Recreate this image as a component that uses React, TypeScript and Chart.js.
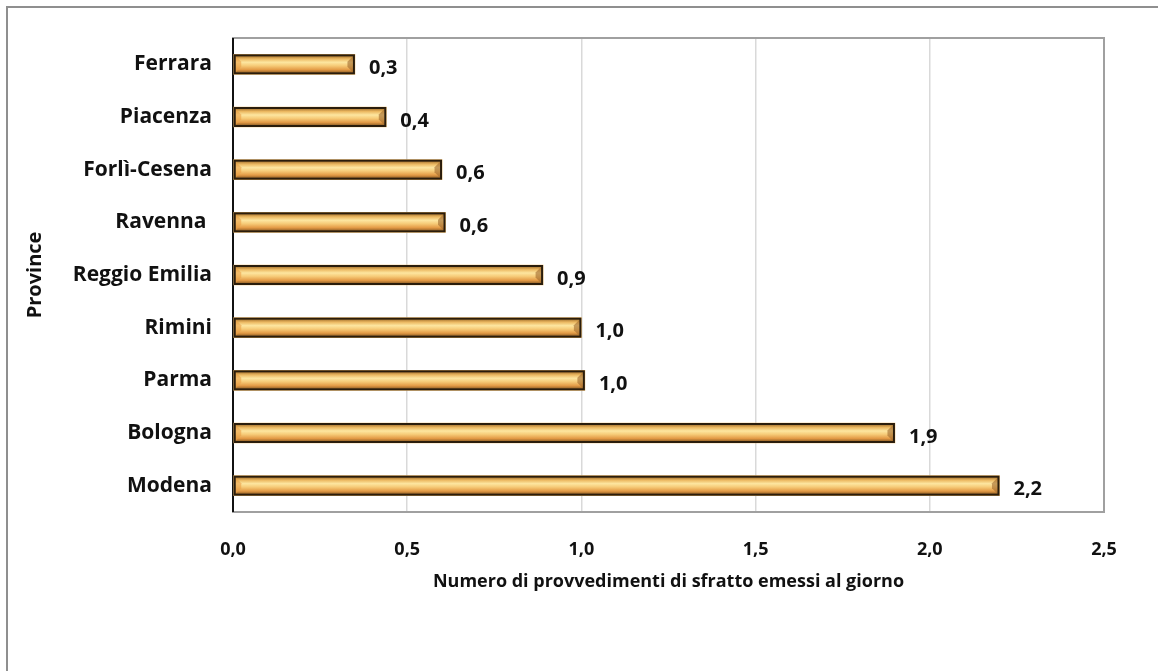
import React, { useEffect, useRef } from "react";
import { Chart, registerables } from "chart.js";

Chart.register(...registerables);

const provinces = ["Ferrara", "Piacenza", "Forlì-Cesena", "Ravenna ", "Reggio Emilia", "Rimini", "Parma", "Bologna", "Modena"];
const sfrattiPerGiorno = [0.35, 0.44, 0.6, 0.61, 0.89, 1.0, 1.01, 1.9, 2.2];
const xMin = 0;
const xMax = 2.5;
const xStep = 0.5;
const xTitle = "Numero di provvedimenti di sfratto emessi al giorno";
const yTitle = "Province";

const FONT = "'Open Sans', 'Noto Sans', sans-serif";
const fmt = (v: number) => v.toFixed(1).replace(".", ",");

const framePlugin = {
  id: "frame",
  beforeDatasetsDraw(chart: any) {
    const { ctx, chartArea: a } = chart;
    ctx.save();
    ctx.strokeStyle = "#a0a0a0";
    ctx.lineWidth = 2;
    ctx.strokeRect(a.left, a.top, a.right - a.left, a.bottom - a.top);
    ctx.strokeStyle = "#111111";
    ctx.lineWidth = 2;
    ctx.beginPath();
    ctx.moveTo(a.left, a.top);
    ctx.lineTo(a.left, a.bottom);
    ctx.stroke();
    ctx.restore();
  },
};

const bevelPlugin = {
  id: "bevel",
  afterDatasetsDraw(chart: any) {
    const { ctx } = chart;
    const meta = chart.getDatasetMeta(0);
    ctx.save();
    meta.data.forEach((el: any, i: number) => {
      const p = el.getProps(["x", "y", "base", "height"], true);
      const bw = 1.5;
      const x0 = Math.min(p.base, p.x) + bw;
      const x1 = Math.max(p.base, p.x) - bw;
      const y0 = p.y - p.height / 2 + bw;
      const y1 = p.y + p.height / 2 - bw;
      const g = ctx.createLinearGradient(0, y0, 0, y1);
      g.addColorStop(0, "#a8752f");
      g.addColorStop(0.18, "#ecb962");
      g.addColorStop(0.38, "#fde6a0");
      g.addColorStop(0.58, "#f6cb78");
      g.addColorStop(0.82, "#e39a45");
      g.addColorStop(1, "#8f5f26");
      ctx.fillStyle = g;
      ctx.fillRect(x0, y0, x1 - x0, y1 - y0);
      const b = Math.min(6, (x1 - x0) / 2);
      ctx.fillStyle = "rgba(235,160,70,0.6)";
      ctx.beginPath();
      ctx.moveTo(x0, y0);
      ctx.lineTo(x0 + b, y0 + b);
      ctx.lineTo(x0 + b, y1 - b);
      ctx.lineTo(x0, y1);
      ctx.closePath();
      ctx.fill();
      ctx.fillStyle = "rgba(160,105,45,0.6)";
      ctx.beginPath();
      ctx.moveTo(x1, y0);
      ctx.lineTo(x1 - b, y0 + b);
      ctx.lineTo(x1 - b, y1 - b);
      ctx.lineTo(x1, y1);
      ctx.closePath();
      ctx.fill();
      ctx.strokeStyle = "#2a1d0c";
      ctx.lineWidth = 2;
      ctx.strokeRect(x0 - 0.5, y0 - 0.5, x1 - x0 + 1, y1 - y0 + 1);
      // value label
      ctx.fillStyle = "#111111";
      ctx.font = `bold 20px ${FONT}`;
      ctx.textAlign = "left";
      ctx.textBaseline = "middle";
      ctx.fillText(fmt(sfrattiPerGiorno[i]), Math.max(p.base, p.x) + 14, p.y + 4);
    });
    ctx.restore();
  },
};

export default function App() {
  const ref = useRef<HTMLCanvasElement>(null);
  useEffect(() => {
    if (!ref.current) return;
    const chart = new Chart(ref.current, {
      type: "bar",
      data: {
        labels: provinces,
        datasets: [
          {
            data: sfrattiPerGiorno,
            backgroundColor: "#efbd6e",
            borderColor: "#2a1d0c",
            borderWidth: 0,
            barThickness: 20,
          },
        ],
      },
      options: {
        indexAxis: "y",
        animation: false,
        responsive: false,
        layout: { padding: { left: 0, right: 54, top: 38, bottom: 69 } },
        plugins: { legend: { display: false }, tooltip: { enabled: false } },
        scales: {
          x: {
            min: xMin,
            max: xMax,
            ticks: {
              stepSize: xStep,
              padding: 27,
              color: "#111111",
              font: { family: FONT, size: 18, weight: "bold" },
              callback: (v: any) => fmt(Number(v)),
            },
            grid: { color: "#d9d9d9", lineWidth: 1.5, drawTicks: false },
            border: { display: false },
            title: {
              display: true,
              text: xTitle,
              color: "#111111",
              font: { family: FONT, size: 18, weight: "bold" },
              padding: { top: 0, bottom: 9 },
            },
            afterFit: (s: any) => {
              s.height = 90;
            },
          },
          y: {
            ticks: {
              padding: 21,
              color: "#111111",
              font: { family: FONT, size: 21, weight: "bold" },
            },
            grid: { display: false, drawTicks: false },
            border: { display: false },
            title: {
              display: true,
              text: yTitle,
              color: "#111111",
              font: { family: FONT, size: 20, weight: "bold" },
              padding: { top: 23, bottom: 0 },
            },
            afterFit: (s: any) => {
              s.width = 233;
            },
          },
        },
      },
      plugins: [framePlugin, bevelPlugin],
    });
    return () => chart.destroy();
  }, []);

  return (
    <div style={{ position: "fixed", left: 0, top: 0, width: 1158, height: 671, overflow: "hidden", background: "#ffffff" }}>
      <div style={{ position: "absolute", left: 6, top: 6, width: 1220, height: 720, border: "2px solid #8f8f8f" }} />
      <canvas ref={ref} width={1158} height={671} style={{ position: "absolute", left: 0, top: 0 }} />
    </div>
  );
}
